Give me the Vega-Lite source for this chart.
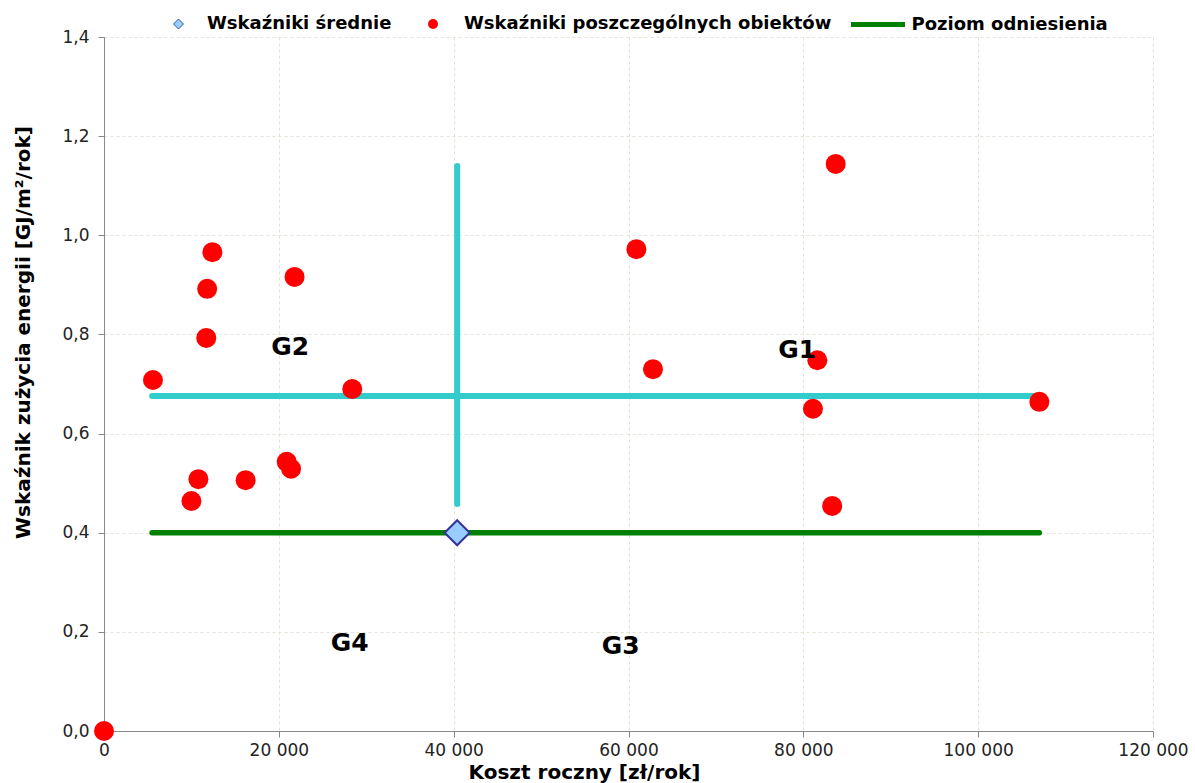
{
  "$schema": "https://vega.github.io/schema/vega-lite/v6.json",
  "width": 1049,
  "height": 694,
  "autosize": "none",
  "padding": {"left": 104, "top": 37, "right": 42, "bottom": 52},
  "background": "white",
  "config": {
    "locale": {"number": {"decimal": ",", "thousands": " ", "grouping": [3], "currency": ["", " zł"]}},
    "view": {"stroke": null},
    "legend": {
      "title": null,
      "orient": "none",
      "direction": "horizontal",
      "padding": 0,
      "labelFont": "DejaVu Sans",
      "labelFontSize": 18,
      "labelFontWeight": "bold",
      "labelColor": "#000000",
      "labelLimit": 600
    },
    "axis": {
      "labelFont": "DejaVu Sans",
      "labelFontSize": 17,
      "labelColor": "#222222",
      "titleFont": "DejaVu Sans",
      "titleFontSize": 20,
      "titleFontWeight": "bold",
      "titleColor": "#000000",
      "domainColor": "#888888",
      "tickColor": "#888888",
      "tickSize": 6,
      "grid": true,
      "gridColor": "#E2E2D6",
      "gridDash": [3, 3],
      "gridWidth": 1,
      "labelFlush": false,
      "labelOverlap": false
    }
  },
  "datasets": {
    "points": [
      {"x": 0, "y": 0, "series": "Wskaźniki poszczególnych obiektów"},
      {"x": 5600, "y": 0.708, "series": "Wskaźniki poszczególnych obiektów"},
      {"x": 11700, "y": 0.793, "series": "Wskaźniki poszczególnych obiektów"},
      {"x": 11800, "y": 0.892, "series": "Wskaźniki poszczególnych obiektów"},
      {"x": 12400, "y": 0.966, "series": "Wskaźniki poszczególnych obiektów"},
      {"x": 21800, "y": 0.916, "series": "Wskaźniki poszczególnych obiektów"},
      {"x": 28400, "y": 0.690, "series": "Wskaźniki poszczególnych obiektów"},
      {"x": 10000, "y": 0.464, "series": "Wskaźniki poszczególnych obiektów"},
      {"x": 10800, "y": 0.508, "series": "Wskaźniki poszczególnych obiektów"},
      {"x": 16200, "y": 0.506, "series": "Wskaźniki poszczególnych obiektów"},
      {"x": 20900, "y": 0.543, "series": "Wskaźniki poszczególnych obiektów"},
      {"x": 21400, "y": 0.529, "series": "Wskaźniki poszczególnych obiektów"},
      {"x": 60900, "y": 0.972, "series": "Wskaźniki poszczególnych obiektów"},
      {"x": 62800, "y": 0.730, "series": "Wskaźniki poszczególnych obiektów"},
      {"x": 83700, "y": 1.144, "series": "Wskaźniki poszczególnych obiektów"},
      {"x": 81600, "y": 0.748, "series": "Wskaźniki poszczególnych obiektów"},
      {"x": 81100, "y": 0.650, "series": "Wskaźniki poszczególnych obiektów"},
      {"x": 107000, "y": 0.664, "series": "Wskaźniki poszczególnych obiektów"},
      {"x": 83300, "y": 0.454, "series": "Wskaźniki poszczególnych obiektów"}
    ],
    "mean": [
      {"x": 40400, "y": 0.40, "series": "Wskaźniki średnie"}
    ],
    "cyan": [
      {"x": 5500, "x2": 107000, "y": 0.676, "y2": 0.676},
      {"x": 40400, "x2": 40400, "y": 0.458, "y2": 1.14}
    ],
    "ref": [
      {"x": 5500, "x2": 107000, "y": 0.40, "y2": 0.40, "series": "Poziom odniesienia"}
    ],
    "labels": [
      {"x": 79300, "y": 0.769, "label": "G1"},
      {"x": 21300, "y": 0.775, "label": "G2"},
      {"x": 59100, "y": 0.171, "label": "G3"},
      {"x": 28100, "y": 0.178, "label": "G4"}
    ]
  },
  "encoding": {
    "x": {
      "field": "x",
      "type": "quantitative",
      "title": "Koszt roczny [zł/rok]",
      "scale": {"domain": [0, 120000], "nice": false, "zero": false},
      "axis": {
        "values": [0, 20000, 40000, 60000, 80000, 100000, 120000],
        "format": ",d",
        "labelPadding": 5,
        "titleX": 480,
        "titleY": 47,
        "titleAlign": "center",
        "titleBaseline": "alphabetic"
      }
    },
    "y": {
      "field": "y",
      "type": "quantitative",
      "title": "Wskaźnik zużycia energii [GJ/m²/rok]",
      "scale": {"domain": [0, 1.4], "nice": false, "zero": false},
      "axis": {
        "values": [0, 0.2, 0.4, 0.6, 0.8, 1.0, 1.2, 1.4],
        "format": ".1f",
        "labelPadding": 9,
        "titleX": -81,
        "titleY": 295,
        "titleAlign": "center",
        "titleBaseline": "middle",
        "titleAngle": -90
      }
    }
  },
  "layer": [
    {
      "data": {"name": "cyan"},
      "mark": {"type": "rule", "color": "#33CCCC", "strokeWidth": 6, "strokeCap": "round"},
      "encoding": {
        "x2": {"field": "x2"},
        "y2": {"field": "y2"}
      }
    },
    {
      "data": {"name": "ref"},
      "mark": {"type": "rule", "strokeWidth": 5.5, "strokeCap": "round", "opacity": 1},
      "encoding": {
        "x2": {"field": "x2"},
        "y2": {"field": "y2"},
        "stroke": {
          "field": "series",
          "type": "nominal",
          "scale": {"domain": ["Poziom odniesienia"], "range": ["#008000"]},
          "legend": {
            "legendX": 744.5,
            "legendY": -42,
            "symbolType": "stroke",
            "symbolSize": 2916,
            "symbolStrokeWidth": 5,
            "labelOffset": 4
          }
        }
      }
    },
    {
      "data": {"name": "points"},
      "mark": {"type": "point", "shape": "circle", "filled": true, "size": 400, "opacity": 1, "strokeWidth": 0},
      "encoding": {
        "color": {
          "field": "series",
          "type": "nominal",
          "scale": {"domain": ["Wskaźniki poszczególnych obiektów"], "range": ["#FF0000"]},
          "legend": {
            "legendX": 320,
            "legendY": -22,
            "symbolType": "circle",
            "symbolSize": 100,
            "symbolStrokeWidth": 0,
            "labelOffset": 22
          }
        }
      }
    },
    {
      "data": {"name": "mean"},
      "mark": {"type": "point", "shape": "diamond", "filled": true, "size": 625, "opacity": 1, "stroke": "#333399", "strokeWidth": 2},
      "encoding": {
        "fill": {
          "field": "series",
          "type": "nominal",
          "scale": {"domain": ["Wskaźniki średnie"], "range": ["#99CCFF"]},
          "legend": {
            "legendX": 65.5,
            "legendY": -22,
            "symbolType": "diamond",
            "symbolSize": 100,
            "symbolStrokeColor": "#3355AA",
            "symbolStrokeWidth": 1,
            "labelOffset": 19.5
          }
        }
      }
    },
    {
      "data": {"name": "labels"},
      "mark": {"type": "text", "font": "DejaVu Sans", "fontSize": 25, "fontWeight": "bold", "color": "#000000", "align": "center", "baseline": "middle"},
      "encoding": {
        "text": {"field": "label", "type": "nominal"}
      }
    }
  ]
}
